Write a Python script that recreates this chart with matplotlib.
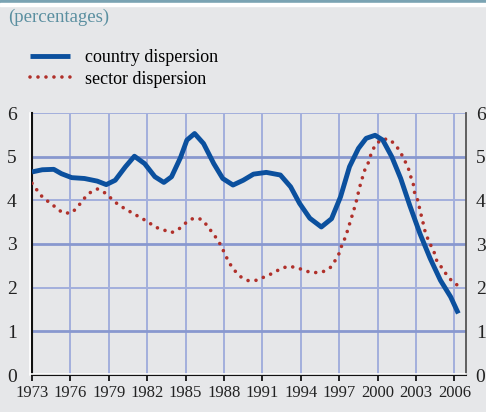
import numpy as np
import matplotlib
matplotlib.use('Agg')
import matplotlib.pyplot as plt
from matplotlib.lines import Line2D
from matplotlib.patches import Rectangle

# values
country_year = [1973.0, 1973.8, 1974.7, 1975.3, 1976.1, 1977.1, 1978.1, 1978.8, 1979.5,
                1980.3, 1981.0, 1981.8, 1982.6, 1983.3, 1983.9, 1984.6, 1985.1, 1985.7,
                1986.4, 1987.2, 1987.9, 1988.7, 1989.5, 1990.3, 1991.3, 1992.4, 1993.2,
                1993.9, 1994.7, 1995.6, 1996.4, 1997.1, 1997.8, 1998.5, 1999.1, 1999.8,
                2000.4, 2001.1, 2001.8, 2002.5, 2003.3, 2004.1, 2004.9, 2005.7, 2006.3]
country_disp = [4.65, 4.70, 4.71, 4.61, 4.52, 4.50, 4.44, 4.36, 4.46,
                4.77, 5.01, 4.84, 4.54, 4.41, 4.54, 4.98, 5.38, 5.53,
                5.30, 4.84, 4.50, 4.35, 4.46, 4.60, 4.64, 4.58, 4.31,
                3.93, 3.59, 3.39, 3.58, 4.08, 4.77, 5.19, 5.42, 5.49,
                5.38, 5.00, 4.50, 3.89, 3.24, 2.67, 2.17, 1.79, 1.41]

sector_year = [1973.0, 1973.4, 1973.8, 1974.4, 1974.9, 1975.4, 1976.1, 1976.6, 1977.0,
               1977.5, 1978.1, 1978.7, 1979.2, 1979.7, 1980.3, 1980.9, 1981.5, 1982.1,
               1982.6, 1983.2, 1983.9, 1984.5, 1985.0, 1985.6, 1986.2, 1986.7, 1987.1,
               1987.5, 1987.8, 1988.1, 1988.4, 1988.8, 1989.3, 1989.9, 1990.6, 1991.1,
               1991.8, 1992.4, 1993.0, 1993.7, 1994.3, 1994.9, 1995.7, 1996.3, 1996.7,
               1997.0, 1997.2, 1997.5, 1997.7, 1997.9, 1998.1, 1998.3, 1998.6, 1998.8,
               1999.0, 1999.3, 1999.5, 1999.8, 2000.3, 2000.9, 2001.4, 2001.8, 2002.1,
               2002.4, 2002.6, 2002.8, 2002.9, 2003.2, 2003.3, 2003.5, 2003.6, 2003.8,
               2004.1, 2004.4, 2004.6, 2005.0, 2005.4, 2005.8, 2006.4]
sector_disp = [4.39, 4.23, 4.08, 3.94, 3.83, 3.71, 3.71, 3.86, 4.02,
               4.17, 4.26, 4.17, 4.04, 3.91, 3.80, 3.70, 3.60, 3.50,
               3.39, 3.33, 3.26, 3.35, 3.48, 3.59, 3.57, 3.42, 3.25,
               3.10, 2.94, 2.75, 2.57, 2.40, 2.25, 2.16, 2.17, 2.24,
               2.33, 2.43, 2.49, 2.46, 2.39, 2.34, 2.36, 2.46, 2.63,
               2.79, 2.97, 3.17, 3.36, 3.55, 3.74, 3.94, 4.31, 4.51,
               4.70, 4.88, 5.08, 5.26, 5.40, 5.40, 5.27, 5.09, 4.92,
               4.73, 4.53, 4.35, 4.14, 3.96, 3.75, 3.57, 3.39, 3.20,
               3.00, 2.82, 2.63, 2.46, 2.29, 2.15, 2.02]

x_ticks = list(range(1973, 2007, 3))
y_ticks = [0, 1, 2, 3, 4, 5, 6]

bg = '#e6e7e9'
blue = '#0b509e'
red = '#b0302a'
grid_c = '#a3afdc'
grid_dark = '#8898cf'

plt.rcParams['font.family'] = ['Liberation Serif', 'DejaVu Serif']

W, H = 486, 412
fig = plt.figure(figsize=(W / 100, H / 100), dpi=100, facecolor=bg)

# top stripe
fig.patches.append(Rectangle((0, 1 - 3 / H), 1, 3 / H, transform=fig.transFigure,
                             color='#7aa3b3', zorder=0))
fig.patches.append(Rectangle((0, 1 - 5.5 / H), 1, 2.5 / H, transform=fig.transFigure,
                             color='white', zorder=0))

fig.text(8 / W, 1 - 17 / H, '(percentages)', color='#5a8fa0', fontsize=13.5,
         va='center', ha='left')

ax = fig.add_axes([32 / W, 37 / H, 434 / W, 262 / H])
ax.set_facecolor(bg)
ax.set_xlim(1973, 2006.9)
ax.set_ylim(0, 6)

for x in x_ticks[1:]:
    ax.axvline(x, color=grid_c, lw=1.4, zorder=1)
for y in y_ticks[1:]:
    if y % 2 == 1:
        ax.axhline(y, color=grid_dark, lw=2.0, zorder=1)
    else:
        ax.axhline(y, color=grid_c, lw=1.4, zorder=1)

ax.plot(sector_year, sector_disp, color=red, lw=2.6,
        linestyle=(0, (0.01, 2.2)), dash_capstyle='round', zorder=3,
        label='sector dispersion')
ax.plot(country_year, country_disp, color=blue, lw=3.5,
        solid_capstyle='butt', solid_joinstyle='round', zorder=4,
        label='country dispersion')

ax.set_xticks(x_ticks)
ax.set_xticklabels([str(x) for x in x_ticks], fontsize=12, color='#222222')
ax.set_yticks(y_ticks)
ax.set_yticklabels([str(y) for y in y_ticks], fontsize=14, color='#222222')
ax.tick_params(axis='x', length=4, width=1.2, direction='out', pad=3, color='black')
ax.tick_params(axis='y', length=0, pad=11)

ax.spines['top'].set_visible(False)
ax.spines['left'].set_color('#111111')
ax.spines['left'].set_linewidth(1.5)
ax.spines['bottom'].set_color('#111111')
ax.spines['bottom'].set_linewidth(1.5)
ax.spines['right'].set_color('#555555')
ax.spines['right'].set_linewidth(1.3)

# white highlight along the axes
fig.add_artist(Line2D([30 / W, 30 / W], [37 / H, 299 / H], color='white', lw=1.2,
                      transform=fig.transFigure))
fig.add_artist(Line2D([30 / W, 466 / W], [38.5 / H, 38.5 / H], color='white', lw=1.2,
                      transform=fig.transFigure, zorder=0.5))

ax2 = ax.twinx()
ax2.set_ylim(0, 6)
ax2.set_yticks(y_ticks)
ax2.set_yticklabels([str(y) for y in y_ticks], fontsize=14, color='#222222')
ax2.tick_params(axis='y', length=0, pad=7)
for s in ['top', 'left', 'bottom', 'right']:
    ax2.spines[s].set_visible(False)

# legend
h_c = Line2D([], [], color=blue, lw=3.5, solid_capstyle='butt')
h_s = Line2D([], [], color=red, lw=2.6, linestyle=(0, (0.01, 2.2)), dash_capstyle='round')
fig.legend([h_c, h_s], ['country dispersion', 'sector dispersion'],
           loc='upper left', bbox_to_anchor=(30 / W, 1 - 49 / H),
           frameon=False, fontsize=13, handlelength=2.2, handletextpad=0.85,
           labelspacing=0.25, borderpad=0, borderaxespad=0)

fig.savefig('out.png', dpi=100, facecolor=bg)
